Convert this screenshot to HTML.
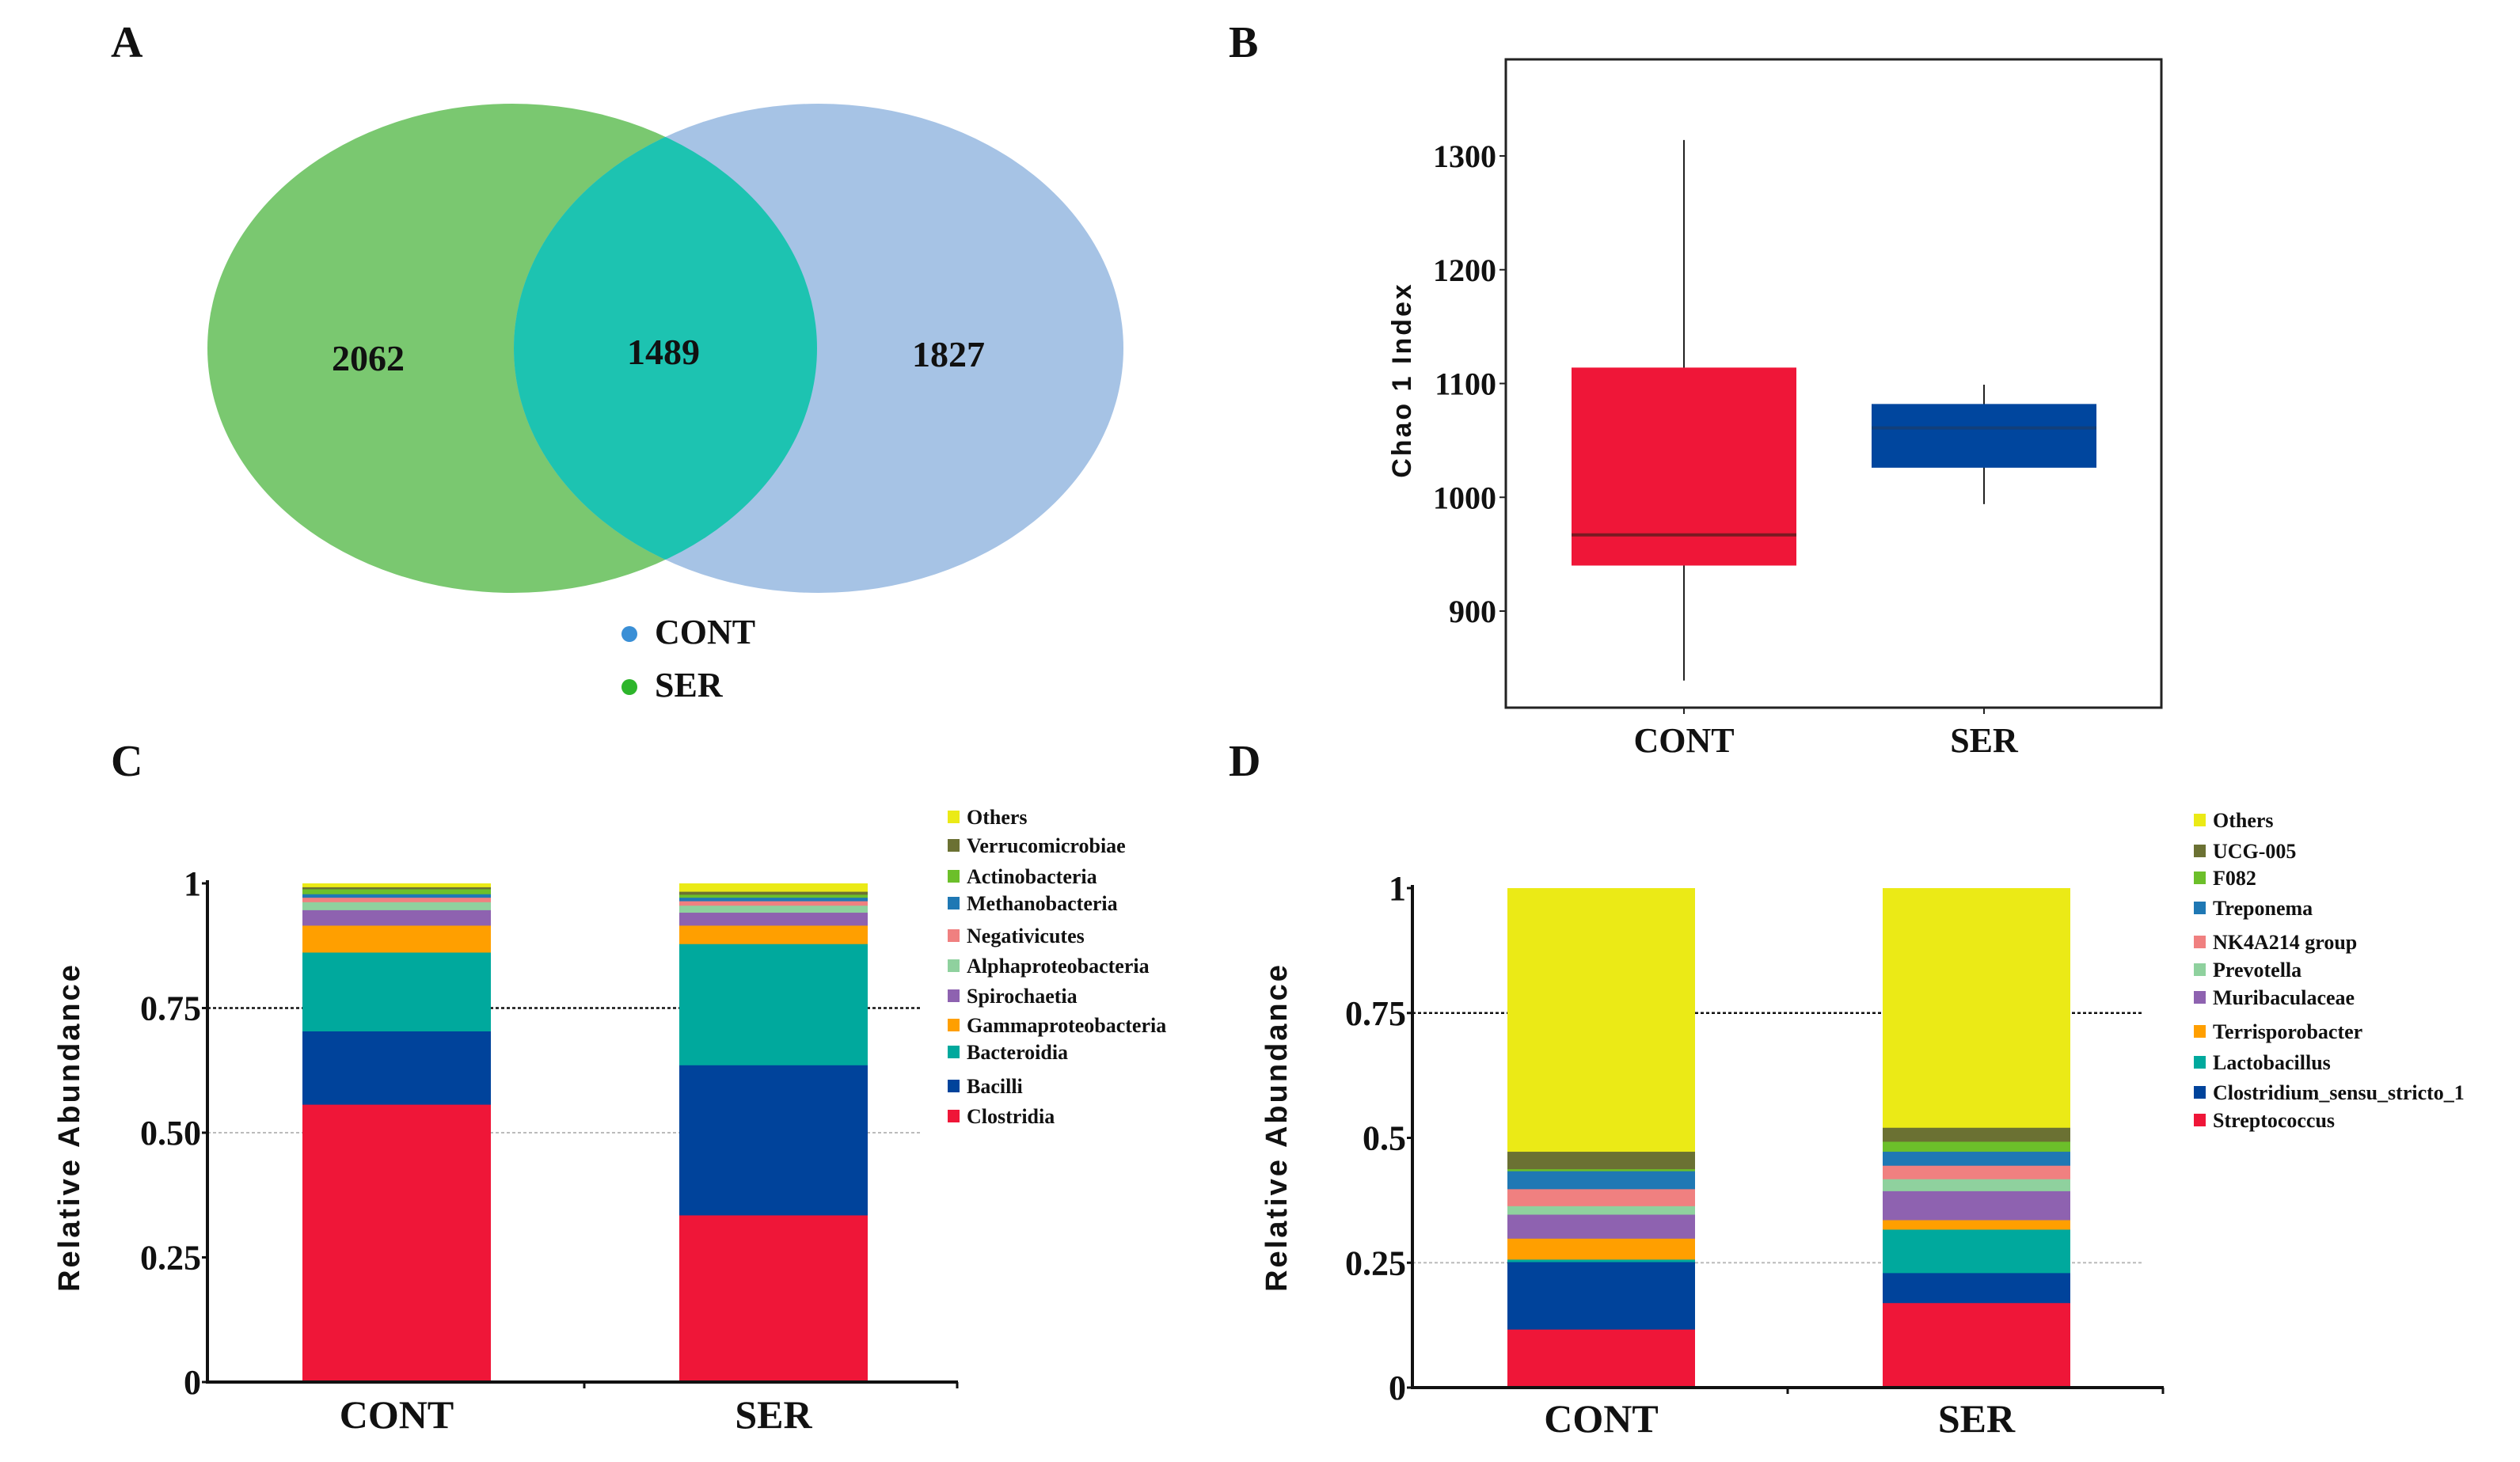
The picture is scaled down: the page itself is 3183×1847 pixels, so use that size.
<!DOCTYPE html>
<html><head><meta charset="utf-8"><style>
html,body{margin:0;padding:0;background:#fff;}
svg{display:block;}
text{font-family:"Liberation Serif",serif;font-weight:bold;fill:#111;}
.sans{font-family:"Liberation Sans",sans-serif;}
</style></head><body>
<svg id="fig" width="3183" height="1847" viewBox="0 0 3183 1847" xmlns="http://www.w3.org/2000/svg">
<rect width="3183" height="1847" fill="#fff"/>
<text x="140" y="72" font-size="56">A</text>
<text x="1552" y="72" font-size="56">B</text>
<text x="140" y="980" font-size="56">C</text>
<text x="1552" y="980" font-size="56">D</text>

<g>
<defs><clipPath id="clipGreen"><ellipse cx="647" cy="440" rx="385" ry="309"/></clipPath></defs>
<ellipse cx="647" cy="440" rx="385" ry="309" fill="#7ac870"/>
<ellipse cx="1034" cy="440" rx="385" ry="309" fill="#a6c3e5"/>
<ellipse cx="1034" cy="440" rx="385" ry="309" fill="#1dc3b1" clip-path="url(#clipGreen)"/>
<text x="465" y="468" font-size="46" text-anchor="middle">2062</text>
<text x="838" y="460" font-size="46" text-anchor="middle">1489</text>
<text x="1198" y="463" font-size="46" text-anchor="middle">1827</text>
<circle cx="795" cy="801" r="10" fill="#3a8fd6"/>
<text x="827" y="813" font-size="44">CONT</text>
<circle cx="795" cy="868" r="10" fill="#2db52b"/>
<text x="827" y="880" font-size="44">SER</text>
</g>

<g id="boxB">
<rect x="1902" y="75" width="828" height="819" fill="none" stroke="#222" stroke-width="3"/>
<text class="sans" transform="translate(1782,480) rotate(-90)" font-size="34" letter-spacing="3" text-anchor="middle">Chao 1 Index</text>
</g>
<g id="chartC">
<text class="sans" transform="translate(100,1424) rotate(-90)" font-size="38" letter-spacing="3" text-anchor="middle">Relative Abundance</text>
</g>
<g id="chartD">
<text class="sans" transform="translate(1625,1424) rotate(-90)" font-size="38" letter-spacing="3" text-anchor="middle">Relative Abundance</text>
</g>
</svg>
<script>
var NS = "http://www.w3.org/2000/svg";
var boxGroups = ["CONT", "SER"];
var boxMin = [839, 994];
var boxQ1 = [940, 1026];
var boxMedian = [967, 1061];
var boxQ3 = [1114, 1082];
var boxMax = [1314, 1099];
var boxTicks = [900, 1000, 1100, 1200, 1300];
var classGroups = ["CONT", "SER"];
var classNames = ["Clostridia","Bacilli","Bacteroidia","Gammaproteobacteria","Spirochaetia","Alphaproteobacteria","Negativicutes","Methanobacteria","Actinobacteria","Verrucomicrobiae","Others"];
var classCONT = [0.557, 0.147, 0.158, 0.054, 0.031, 0.016, 0.009, 0.007, 0.010, 0.004, 0.007];
var classSER = [0.335, 0.301, 0.243, 0.037, 0.026, 0.014, 0.009, 0.007, 0.006, 0.006, 0.016];
var classTicks = ["0", "0.25", "0.50", "0.75", "1"];
var classTickValues = [0, 0.25, 0.5, 0.75, 1];
var genusGroups = ["CONT", "SER"];
var genusNames = ["Streptococcus","Clostridium_sensu_stricto_1","Lactobacillus","Terrisporobacter","Muribaculaceae","Prevotella","NK4A214 group","Treponema","F082","UCG-005","Others"];
var genusCONT = [0.117, 0.135, 0.005, 0.042, 0.048, 0.017, 0.034, 0.036, 0.004, 0.035, 0.527];
var genusSER = [0.170, 0.060, 0.087, 0.019, 0.058, 0.024, 0.027, 0.028, 0.020, 0.028, 0.479];
var genusTicks = ["0", "0.25", "0.5", "0.75", "1"];
var genusTickValues = [0, 0.25, 0.5, 0.75, 1];
var palette = ["#ef1638","#00439b","#00a99d","#ff9f00","#8e62b0","#8fd19e","#f08080","#1f78b4","#6cbf2a","#6b7133","#ebea16"];

function mk(tag, attrs, parent) {
  var e = document.createElementNS(NS, tag);
  for (var k in attrs) e.setAttribute(k, attrs[k]);
  parent.appendChild(e);
  return e;
}

(function(){
  var g = document.getElementById("boxB");
  function yB(v){ return 197 + (1300 - v) * 1.4375; }
  var xc = [2127, 2506], hw = 142;
  for (var t = 0; t < boxTicks.length; t++) {
    var tk = mk("line", {x1:1894, x2:1902, y1:yB(boxTicks[t]), y2:yB(boxTicks[t]), stroke:"#222", "stroke-width":2}, g);
    
    
    var tl = mk("text", {x:1890, y:yB(boxTicks[t]) + 14, "font-size":40, "text-anchor":"end"}, g);
    tl.textContent = boxTicks[t];
    
    
  }
  var fills = ["#ef1638", "#00469e"];
  for (var i = 0; i < boxGroups.length; i++) {
    var w = mk("line", {x1:xc[i], x2:xc[i], y1:yB(boxMax[i]), y2:yB(boxMin[i]), stroke:"#222", "stroke-width":2}, g);
    
    
    var b = mk("rect", {x:xc[i]-hw, y:yB(boxQ3[i]), width:2*hw, height:yB(boxQ1[i])-yB(boxQ3[i]), fill:fills[i]}, g);
    
    
    var m = mk("line", {x1:xc[i]-hw, x2:xc[i]+hw, y1:yB(boxMedian[i]), y2:yB(boxMedian[i]), stroke:i==0?"#7a1a22":"#123f7a", "stroke-width":4}, g);
    
    
    var xt = mk("line", {x1:xc[i], x2:xc[i], y1:894, y2:902, stroke:"#222", "stroke-width":2}, g);
    
    
    var xl = mk("text", {x:xc[i], y:950, "font-size":44, "text-anchor":"middle"}, g);
    xl.textContent = boxGroups[i];
    
    
  }
})();

function stacked(gid, groups, series, names, ticks, tickVals, cfg) {
  var g = document.getElementById(gid);
  function y(v){ return cfg.y0 - v * cfg.scale; }
  var gl1 = mk("line", {x1:cfg.ax, x2:cfg.gridEnd, y1:y(0.75), y2:y(0.75), stroke:"#111", "stroke-width":2.5, "stroke-dasharray":"4,3"}, g);
  
  
  var gl2 = mk("line", {x1:cfg.ax, x2:cfg.gridEnd, y1:y(cfg.lightGrid), y2:y(cfg.lightGrid), stroke:"#bbb", "stroke-width":2, "stroke-dasharray":"4,3"}, g);
  
  
  for (var i = 0; i < groups.length; i++) {
    var acc = 0;
    for (var s = 0; s < names.length; s++) {
      var v = series[i][s];
      var r = mk("rect", {x:cfg.bx[i], y:y(acc+v), width:cfg.bw, height:v*cfg.scale+0.5, fill:palette[s]}, g);
      
      
      acc += v;
    }
    var xl = mk("text", {x:cfg.bx[i] + cfg.bw/2, y:cfg.labelY, "font-size":50, "text-anchor":"middle"}, g);
    xl.textContent = groups[i];
    
    
  }
  var ya = mk("line", {x1:cfg.ax, x2:cfg.ax, y1:y(1)-4, y2:cfg.y0+2, stroke:"#111", "stroke-width":4}, g);
  
  
  var xa = mk("line", {x1:cfg.ax, x2:cfg.axEnd, y1:cfg.y0, y2:cfg.y0, stroke:"#111", "stroke-width":4}, g);
  
  
  var mt = mk("line", {x1:cfg.mid, x2:cfg.mid, y1:cfg.y0, y2:cfg.y0+8, stroke:"#111", "stroke-width":3}, g);
  
  
  var et = mk("line", {x1:cfg.axEnd-1, x2:cfg.axEnd-1, y1:cfg.y0, y2:cfg.y0+8, stroke:"#111", "stroke-width":3}, g);
  
  
  for (var t = 0; t < ticks.length; t++) {
    var tk = mk("line", {x1:cfg.ax-7, x2:cfg.ax, y1:y(tickVals[t]), y2:y(tickVals[t]), stroke:"#111", "stroke-width":3}, g);
    
    
    var tl = mk("text", {x:cfg.ax-8, y:y(tickVals[t]) + 15, "font-size":44, "text-anchor":"end"}, g);
    tl.textContent = ticks[t];
    
    
  }
  for (var s = 0; s < names.length; s++) {
    var ly = cfg.legY[s];
    var sq = mk("rect", {x:cfg.legX, y:ly-8, width:15, height:16, fill:palette[s]}, g);
    
    
    var lt = mk("text", {x:cfg.legX+24, y:ly+9, "font-size":26}, g);
    lt.textContent = names[s];
    
    
  }
}
stacked("chartC", classGroups, [classCONT, classSER], classNames, classTicks, classTickValues, {
  y0:1746, scale:630, ax:262, axEnd:1210, mid:738, gridEnd:1165, lightGrid:0.5,
  bx:[382, 858], bw:238, labelY:1804, legX:1197,
  legY:[1410,1372,1329,1295,1258,1220,1182,1141,1107,1068,1032]
});
stacked("chartD", genusGroups, [genusCONT, genusSER], genusNames, genusTicks, genusTickValues, {
  y0:1753, scale:631, ax:1784, axEnd:2733, mid:2258, gridEnd:2708, lightGrid:0.25,
  bx:[1904, 2378], bw:237, labelY:1809, legX:2771,
  legY:[1415,1380,1342,1303,1260,1225,1190,1147,1109,1075,1036]
});
</script>
</body></html>
